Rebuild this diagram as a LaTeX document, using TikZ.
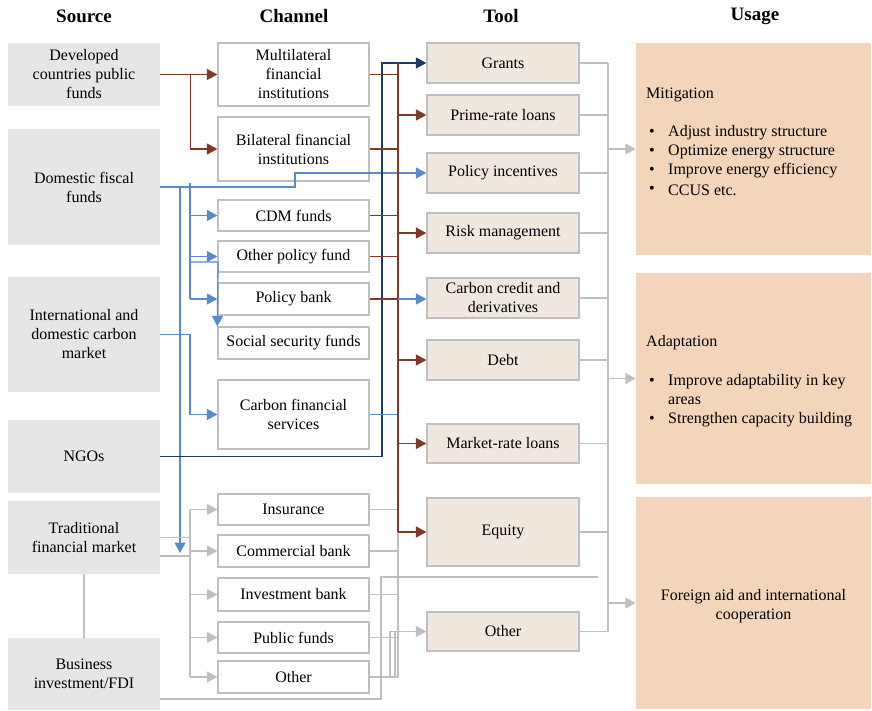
\documentclass[tikz,border=0pt]{standalone}
\usepackage{fontspec}
\setmainfont{Liberation Serif}
\usetikzlibrary{arrows.meta,calc}
\definecolor{srcfill}{RGB}{230,230,233}
\definecolor{toolfill}{RGB}{240,232,223}
\definecolor{usefill}{RGB}{243,213,187}
\definecolor{bordergray}{RGB}{191,191,191}
\definecolor{brncol}{RGB}{128,56,40}
\definecolor{blucol}{RGB}{88,138,204}
\definecolor{nvycol}{RGB}{31,56,100}
\definecolor{grycol}{RGB}{191,191,191}
\newcommand{\bodyfnt}{\fontsize{16}{19}\selectfont}
\newcommand{\headfnt}{\fontsize{19}{22}\selectfont\bfseries}
\begin{document}
\begin{tikzpicture}[x=1pt,y=-1pt,
  srcbox/.style={fill=srcfill,draw=none,minimum width=152,minimum height=#1,align=center,font=\bodyfnt,inner sep=2pt},
  chbox/.style={fill=white,draw=bordergray,line width=1.2pt,minimum width=151,minimum height=#1,align=center,font=\bodyfnt,inner sep=2pt},
  toolbox/.style={fill=toolfill,draw=bordergray,line width=1.2pt,minimum width=152,minimum height=#1,align=center,font=\bodyfnt,inner sep=2pt},
  usebox/.style={fill=usefill,draw=none,minimum width=235,minimum height=#1,inner sep=0pt},
  headtxt/.style={font=\headfnt,inner sep=0pt},
  utxt/.style={font=\bodyfnt,anchor=west,inner sep=0pt},
  ln/.style={line width=1.3pt},
  brn/.style={ln,draw=brncol},
  blu/.style={ln,draw=blucol},
  nvy/.style={ln,draw=nvycol},
  gry/.style={ln,draw=grycol},
  arr/.style={-{Triangle[length=10.5pt,width=11pt]}},
]
\useasboundingbox (0,0) rectangle (872,710);

% headers
\node[headtxt] (h1) at (84,16) {Source};
\node[headtxt] (h2) at (294,16) {Channel};
\node[headtxt] (h3) at (501,16) {Tool};
\node[headtxt] (h4) at (755,16) {Usage};

% sources
\node[srcbox=63] (s1) at (84,74.5) {Developed\\countries public\\funds};
\node[srcbox=116] (s2) at (84,187) {Domestic fiscal\\funds};
\node[srcbox=115] (s3) at (84,334.5) {International and\\domestic carbon\\market};
\node[srcbox=73] (s4) at (84,456.5) {NGOs};
\node[srcbox=73] (s5) at (84,537.5) {Traditional\\financial market};
\node[srcbox=72] (s6) at (84,674) {Business\\investment/FDI};

% channels
\node[chbox=63] (c1) at (293.5,74.5) {Multilateral\\financial\\institutions};
\node[chbox=64] (c2) at (293.5,149) {Bilateral financial\\institutions};
\node[chbox=31] (c3) at (293.5,215.5) {CDM funds};
\node[chbox=31] (c4) at (293.5,256.5) {Other policy fund};
\node[chbox=32] (c5) at (293.5,299) {Policy bank};
\node[chbox=32] (c6) at (293.5,343) {Social security funds};
\node[chbox=69] (c7) at (293.5,414.5) {Carbon financial\\services};
\node[chbox=31] (c8) at (293.5,509.5) {Insurance};
\node[chbox=32] (c9) at (293.5,551) {Commercial bank};
\node[chbox=33] (c10) at (293.5,594.5) {Investment bank};
\node[chbox=31] (c11) at (293.5,637.5) {Public funds};
\node[chbox=32] (c12) at (293.5,677) {Other};

% tools
\node[toolbox=40] (t1) at (503,63) {Grants};
\node[toolbox=40] (t2) at (503,115) {Prime-rate loans};
\node[toolbox=40] (t3) at (503,173) {Policy incentives};
\node[toolbox=40] (t4) at (503,233) {Risk management};
\node[toolbox=40] (t5) at (503,298) {Carbon credit and\\derivatives};
\node[toolbox=40] (t6) at (503,360) {Debt};
\node[toolbox=39] (t7) at (503,443.5) {Market-rate loans};
\node[toolbox=68] (t8) at (503,532) {Equity};
\node[toolbox=39] (t9) at (503,631.5) {Other};

% usages
\node[usebox=212] (u1) at (753.5,149) {};
\node[usebox=211] (u2) at (753.5,378.5) {};
\node[usebox=212] (u3) at (753.5,603) {};

\node[utxt] (m0) at (646,95) {Mitigation};
\node[utxt] (mb1) at (649,133) {•}; \node[utxt] (m1) at (668,133) {Adjust industry structure};
\node[utxt] (mb2) at (649,152) {•}; \node[utxt] (m2) at (668,152) {Optimize energy structure};
\node[utxt] (mb3) at (649,171) {•}; \node[utxt] (m3) at (668,171) {Improve energy efficiency};
\node[utxt] (mb4) at (649,190) {•}; \node[utxt] (m4) at (668,190) {CCUS etc.};

\node[utxt] (a0) at (646,343) {Adaptation};
\node[utxt] (ab1) at (649,382) {•}; \node[utxt] (a1) at (668,382) {Improve adaptability in key};
\node[utxt] (a1b) at (668,401) {areas};
\node[utxt] (ab2) at (649,420) {•}; \node[utxt] (a2) at (668,420) {Strengthen capacity building};

\node[font=\bodyfnt,align=center,inner sep=0pt] (f0) at (753.5,606) {Foreign aid and international\\cooperation};

% ---------- Source -> Channel ----------
% developed funds (brown)
\draw[brn] (s1.east) -- ++(30,0) coordinate (b1);
\draw[brn,arr] (b1) -- (c1.west);
\draw[brn,arr] (b1) |- (c2.west);

% domestic fiscal funds (blue)
\draw[blu,arr] (s2.east) -- (295,187) |- (t3.west);
\draw[blu,arr] (180,187) -- (180,553);
\draw[blu] (190,183) -- (190,299);
\draw[blu,arr] (190,215.5) -- (c3.west);
\draw[blu,arr] (190,256.5) -- (c4.west);
\draw[blu,arr] (190,299) -- (c5.west);
\draw[blu,arr] (190,262) -- (218,262) -- (c6.north west);

% carbon market (blue)
\draw[blu,arr] (s3.east) -- (190,334.5) |- (c7.west);

% NGOs (navy) -> Grants
\draw[nvy,arr] (s4.east) -| (382,63) -- (t1.west);

% traditional financial market (grey)
\draw[gry] (s5.east) -- (190,537.5);
\draw[gry] (160,556) -- (190,556);
\draw[gry] (190,509.5) -- (190,677);
\draw[gry,arr] (190,509.5) -- (c8.west);
\draw[gry,arr] (190,551) -- (c9.west);
\draw[gry,arr] (190,594.5) -- (c10.west);
\draw[gry,arr] (190,637.5) -- (c11.west);
\draw[gry,arr] (190,677) -- (c12.west);
\draw[gry] (s5.south) -- (s6.north);

% business investment / FDI
\draw[gry] ($(s6.east)+(0,25)$) -- (381,699) -- (381,577) -- (598,577);

% ---------- Channel -> Tool ----------
\draw[gry] (c8.east) -- (398,509.5);
\draw[gry] (c9.east) -- (398,551);
\draw[gry] (c10.east) -- (398,594.5);
\draw[gry] (c11.east) -- (398,637.5);
\draw[gry] (c12.east) -- (398,677);
\draw[gry] (398,509.5) -- (398,677);
\draw[gry,arr] (390,677) -- (390,631.5) -- (t9.west);
\draw[gry] (395,631.5) -- (395,677);

\draw[brn] (c1.east) -- (398,74.5);
\draw[brn] (c2.east) -- (398,149);
\draw[brn] (c3.east) -- (398,215.5);
\draw[brn] (c4.east) -- (398,256.5);
\draw[brn] (c5.east) -- (398,299);
\draw[blu] (c7.east) -- (398,414.5);
\draw[brn] (398,63) -- (398,532);
\draw[brn,arr] (398,115) -- (t2.west);
\draw[brn,arr] (398,233) -- (t4.west);
\draw[brn,arr] (398,360) -- (t6.west);
\draw[brn,arr] (398,443.5) -- (t7.west);
\draw[brn,arr] (398,532) -- (t8.west);
\draw[blu,arr] (398,299) -- (t5.west|-c5.east);

% ---------- Tool -> Usage ----------
\foreach \t in {t1,t2,t3,t4,t5,t6,t7,t8,t9}{
  \draw[gry] (\t.east) -- (\t.east -| 608,0);
}
\draw[gry] (608,63) -- (608,631.5);
\draw[gry,arr] (608,149) -- (u1.west);
\draw[gry,arr] (608,378.5) -- (u2.west);
\draw[gry,arr] (608,603) -- (u3.west);
\end{tikzpicture}
\end{document}
